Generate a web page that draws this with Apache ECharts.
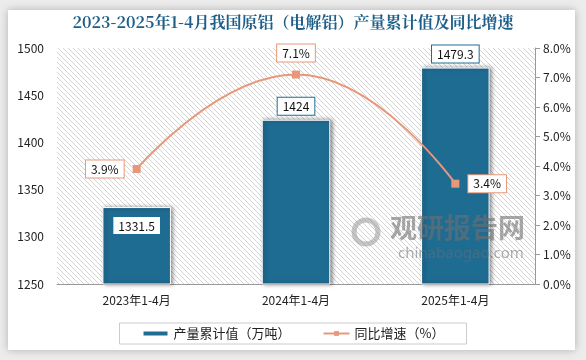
<!DOCTYPE html>
<html><head><meta charset="utf-8">
<script src="https://cdn.jsdelivr.net/npm/echarts@6/dist/echarts.min.js"></script>
<style>html,body{margin:0;padding:0;background:#ececec}#c{width:586px;height:360px}</style>
</head><body><div id="c"></div>
<script>
var categories = ['2023年1-4月', '2024年1-4月', '2025年1-4月'];
var outputValues = [1331.5, 1424, 1479.3];
var growthValues = [3.9, 7.1, 3.4];
var barLabelPos = ['insideTop', 'top', 'top'];
var lineLabelPos = ['left', 'top', 'right'];

var pc = document.createElement('canvas');
pc.width = 5; pc.height = 5;
var g = pc.getContext('2d');
g.fillStyle = '#ffffff'; g.fillRect(0,0,5,5);
g.strokeStyle = '#d4d4d4'; g.lineWidth = 1;
g.beginPath(); g.moveTo(0,0); g.lineTo(5,5); g.moveTo(-1,4); g.lineTo(1,6); g.moveTo(4,-1); g.lineTo(6,1); g.stroke();

var chart = echarts.init(document.getElementById('c'), null, {renderer:'canvas'});
var font = '"Microsoft YaHei","Noto Sans CJK SC",sans-serif';
chart.setOption({
  backgroundColor: '#ececec',
  animation: false,
  graphic: [
    {type:'rect', z:-10, shape:{x:8,y:10,width:567,height:340}, style:{fill:'#fff', shadowBlur:8, shadowColor:'rgba(0,0,0,0.25)'}},
    {type:'circle', z:100, shape:{cx:366,cy:232,r:12}, style:{fill:'none', stroke:'rgba(150,150,150,0.55)', lineWidth:5}},
    {type:'text', z:100, left: 390, top: 214, style:{text:'观研报告网', fill:'rgba(110,110,110,0.6)', font:'bold 27px "Noto Sans CJK SC", sans-serif'}},
    {type:'text', z:100, left: 398, top: 246, style:{text:'chinabaogao.com', fill:'rgba(110,110,110,0.55)', font:'15px "Noto Sans", sans-serif'}}
  ],
  title: {
    text: '2023-2025年1-4月我国原铝（电解铝）产量累计值及同比增速',
    left: 'center', top: 9,
    textStyle: {color:'#1d5f8a', fontSize:16, fontWeight:'bold', fontFamily:'"Noto Serif CJK SC","Noto Sans CJK SC",serif'}
  },
  legend: {
    bottom: 16, left: 'center',
    itemGap: 32,
    borderColor: '#cccccc', borderWidth: 1, padding: [4, 22, 4, 22],
    textStyle: {fontSize: 13, color:'#222', fontFamily: font},
    data: [
      {name:'产量累计值（万吨）', icon:'rect', itemStyle:{color:'#1f6c93'}},
      {name:'同比增速（%）'}
    ],
    itemWidth: 26, itemHeight: 6
  },
  grid: {left: 57, right: 51, top: 48, bottom: 76, show: true, borderWidth: 0,
    backgroundColor: {image: pc, repeat: 'repeat'}},
  xAxis: {
    type: 'category', data: categories,
    axisLine: {lineStyle:{color:'#999'}},
    axisTick: {show:false},
    axisLabel: {color:'#222', fontSize:12, margin:10, fontFamily: font}
  },
  yAxis: [
    {type:'value', min:1250, max:1500, interval:50,
     splitLine:{show:false}, axisLine:{show:false}, axisTick:{show:false},
     axisLabel:{color:'#222', fontSize:12, margin:13, fontFamily: font, formatter: function(v){return String(v);}}},
    {type:'value', min:0, max:8, interval:1, position:'right',
     splitLine:{show:false},
     axisLine:{show:true, lineStyle:{color:'#999'}},
     axisTick:{show:true, length:5, lineStyle:{color:'#999'}},
     axisLabel:{color:'#222', fontSize:12, margin:8, fontFamily: font, formatter: function(v){return v.toFixed(1)+'%';}}}
  ],
  series: [
    {name:'产量累计值（万吨）', type:'bar', barWidth:'43%',
     data: outputValues.map(function(v,i){return {value:v, label:{position:barLabelPos[i], distance: i===0?10:5}};}),
     itemStyle:{color:'#1f6c93', borderColor:'#fff', borderWidth:1, shadowBlur:4, shadowColor:'rgba(0,0,0,0.45)', shadowOffsetX:2, shadowOffsetY:0},
     label:{show:true, color:'#111', fontSize:12, backgroundColor:'#fff', borderColor:'#1f6c93', borderWidth:1, padding:[3,5,2,5], fontFamily: font}
    },
    {name:'同比增速（%）', type:'line', yAxisIndex:1, smooth:true,
     data: growthValues.map(function(v,i){return {value:v, label:{position:lineLabelPos[i]}};}),
     symbol:'rect', symbolSize:8,
     lineStyle:{color:'#e8987a', width:2},
     itemStyle:{color:'#e8987a'},
     label:{show:true, color:'#111', fontSize:12, distance:9, backgroundColor:'#fff', borderColor:'#e8987a', borderWidth:1, padding:[3,5,2,5], fontFamily: font, formatter: function(p){return p.value.toFixed(1)+'%';}}
    }
  ]
});
</script></body></html>
